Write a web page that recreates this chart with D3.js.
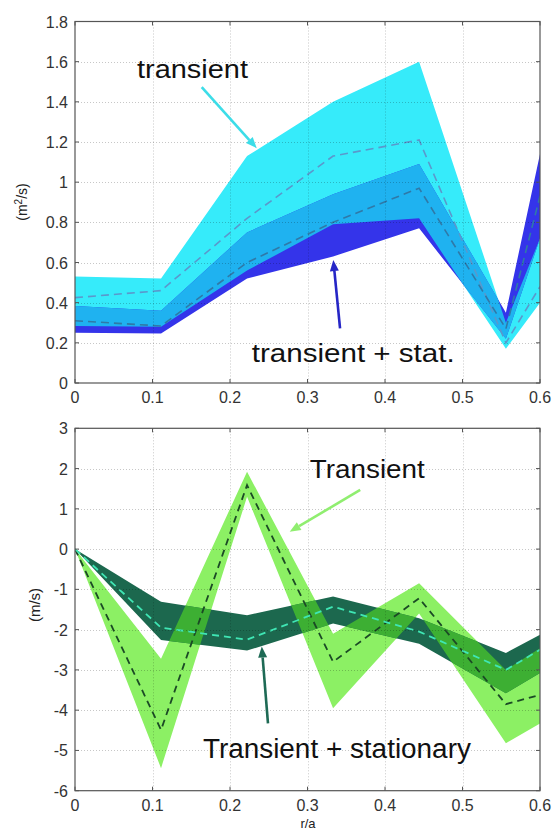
<!DOCTYPE html>
<html>
<head>
<meta charset="utf-8">
<script src="https://cdn.jsdelivr.net/npm/d3@7"></script>
<style>
  body { margin: 0; background: #fff; }
  svg { display: block; font-family: Arial, "Liberation Sans", sans-serif; }
</style>
</head>
<body>
<div id="chart"></div>
<script>
'use strict';

// radial positions (r/a) and x ticks, shared by both panels
const rOverA = [0, 0.111, 0.222, 0.333, 0.444, 0.556, 0.6];
const xTicks = [0, 0.1, 0.2, 0.3, 0.4, 0.5, 0.6];

// top panel: diffusion coefficient (m^2/s)
const diffTicks = [0, 0.2, 0.4, 0.6, 0.8, 1, 1.2, 1.4, 1.6, 1.8];
const diffTransLo   = [0.284, 0.28, 0.56, 0.79, 0.82, 0.17, 0.40];
const diffTransHi   = [0.53, 0.52, 1.13, 1.40, 1.60, 0.30, 0.72];
const diffTransMean = [0.425, 0.46, 0.82, 1.13, 1.21, 0.20, 0.48];
const diffStatLo    = [0.25, 0.247, 0.52, 0.63, 0.77, 0.22, 0.72];
const diffStatHi    = [0.383, 0.36, 0.75, 0.94, 1.09, 0.35, 1.14];
const diffStatMean  = [0.31, 0.284, 0.60, 0.80, 0.97, 0.27, 0.93];

// bottom panel: convection velocity (m/s)
const velTicks = [-6, -5, -4, -3, -2, -1, 0, 1, 2, 3];
const velTransLo   = [0, -5.44, 1.30, -3.95, -1.60, -4.82, -4.33];
const velTransHi   = [0, -2.72, 1.92, -2.10, -0.85, -3.00, -2.46];
const velTransMean = [0, -4.49, 1.59, -2.80, -1.22, -3.85, -3.62];
const velStatLo    = [0, -2.26, -2.52, -1.85, -2.35, -3.58, -3.08];
const velStatHi    = [0, -1.31, -1.64, -1.18, -1.72, -2.58, -2.13];
const velStatMean  = [0, -1.95, -2.25, -1.43, -2.05, -3.00, -2.50];

const width = 554, height = 832;

const svg = d3.select('#chart')
    .append('svg')
    .attr('width', width)
    .attr('height', height);

const x = d3.scaleLinear().domain([0, 0.6]).range([75, 540]);

const band = (lo, hi) => rOverA.map((r, i) => ({ r, lo: lo[i], hi: hi[i] }));
const series = vals => rOverA.map((r, i) => ({ r, v: vals[i] }));
const tickFmt = d => String(+d.toFixed(1)); // matlab style: 0, 0.2, 1, -3

function drawPanel(opt) {
    const y = opt.y;
    const [x0, x1] = x.range();
    const [yb, yt] = y.range();

    const area = d3.area().x(d => x(d.r)).y0(d => y(d.lo)).y1(d => y(d.hi));
    const line = d3.line().x(d => x(d.r)).y(d => y(d.v));

    // clip to the axes box
    svg.append('clipPath').attr('id', opt.id + '-box')
        .append('rect')
        .attr('x', x0).attr('y', yt)
        .attr('width', x1 - x0).attr('height', yb - yt);

    // clip to the first band, so the overlap can get its own colour
    svg.append('clipPath').attr('id', opt.id + '-band')
        .append('path')
        .attr('d', area(opt.bandA.data));

    const plot = svg.append('g').attr('clip-path', `url(#${opt.id}-box)`);

    plot.append('path').attr('d', area(opt.bandA.data)).attr('fill', opt.bandA.color);
    plot.append('path').attr('d', area(opt.bandB.data)).attr('fill', opt.bandB.color);
    plot.append('g').attr('clip-path', `url(#${opt.id}-band)`)
        .append('path').attr('d', area(opt.bandB.data)).attr('fill', opt.overlap);

    // grid, faint and dotted, over the patches
    const grid = svg.append('g')
        .attr('stroke', 'rgba(0,0,0,0.22)')
        .attr('stroke-width', 1)
        .attr('stroke-dasharray', '1,2');
    grid.selectAll('.gx').data(xTicks.slice(1, -1)).join('line')
        .attr('x1', d => Math.round(x(d)) + 0.5).attr('x2', d => Math.round(x(d)) + 0.5)
        .attr('y1', yt).attr('y2', yb);
    grid.selectAll('.gy').data(opt.ticks.slice(1, -1)).join('line')
        .attr('y1', d => Math.round(y(d)) + 0.5).attr('y2', d => Math.round(y(d)) + 0.5)
        .attr('x1', x0).attr('x2', x1);

    // dashed mean lines
    opt.lines.forEach(l => {
        plot.append('path')
            .attr('d', line(l.data))
            .attr('fill', 'none')
            .attr('stroke', l.color)
            .attr('stroke-width', l.width)
            .attr('stroke-dasharray', l.dash);
    });

    // axes frame
    svg.append('rect')
        .attr('x', x0).attr('y', yt)
        .attr('width', x1 - x0).attr('height', yb - yt)
        .attr('fill', 'none')
        .attr('stroke', '#555')
        .attr('stroke-width', 1.2);

    // inward ticks on all four sides
    const tk = svg.append('g').attr('stroke', '#555').attr('stroke-width', 1);
    xTicks.forEach(d => {
        tk.append('line').attr('x1', x(d)).attr('x2', x(d)).attr('y1', yb).attr('y2', yb - 4);
        tk.append('line').attr('x1', x(d)).attr('x2', x(d)).attr('y1', yt).attr('y2', yt + 4);
    });
    opt.ticks.forEach(d => {
        tk.append('line').attr('y1', y(d)).attr('y2', y(d)).attr('x1', x0).attr('x2', x0 + 4);
        tk.append('line').attr('y1', y(d)).attr('y2', y(d)).attr('x1', x1).attr('x2', x1 - 4);
    });

    // tick labels
    svg.append('g').selectAll('text').data(xTicks).join('text')
        .attr('x', d => x(d))
        .attr('y', yb + 20)
        .attr('text-anchor', 'middle')
        .attr('font-size', 16)
        .attr('fill', '#333')
        .text(tickFmt);
    svg.append('g').selectAll('text').data(opt.ticks).join('text')
        .attr('x', 68)
        .attr('y', d => y(d) + 6)
        .attr('text-anchor', 'end')
        .attr('font-size', 16)
        .attr('fill', '#333')
        .text(tickFmt);

    // annotations: text and arrows, placed in data units
    opt.notes.forEach(n => {
        svg.append('text')
            .attr('x', x(n.x)).attr('y', y(n.y))
            .attr('font-size', n.size)
            .attr('fill', '#111')
            .attr('textLength', n.len)
            .attr('lengthAdjust', 'spacingAndGlyphs')
            .text(n.text);
    });
    opt.arrows.forEach(a => drawArrow(x(a.x1), y(a.y1), x(a.x2), y(a.y2), a.color));

    return y;
}

function drawArrow(xa, ya, xb, yb, color) {
    const ang = Math.atan2(yb - ya, xb - xa);
    const hl = 11, hw = 4.5;
    const bx = xb - hl * Math.cos(ang), by = yb - hl * Math.sin(ang);
    svg.append('line')
        .attr('x1', xa).attr('y1', ya).attr('x2', bx).attr('y2', by)
        .attr('stroke', color).attr('stroke-width', 2.6);
    const px = -Math.sin(ang) * hw, py = Math.cos(ang) * hw;
    svg.append('path')
        .attr('d', `M${xb},${yb}L${bx + px},${by + py}L${bx - px},${by - py}Z`)
        .attr('fill', color);
}

// ---- top panel ----
drawPanel({
    id: 'diff',
    y: d3.scaleLinear().domain([0, 1.8]).range([383, 21.5]),
    ticks: diffTicks,
    bandA: { data: band(diffTransLo, diffTransHi), color: '#36ebfa' },
    bandB: { data: band(diffStatLo, diffStatHi), color: '#3434ea' },
    overlap: '#1fb2f0',
    lines: [
        { data: series(diffTransMean), color: '#5a98cc', width: 1.6, dash: '8,5' },
        { data: series(diffStatMean), color: '#2f79a8', width: 1.6, dash: '8,5' }
    ],
    notes: [
        { text: 'transient', x: 0.08, y: 1.52, size: 26, len: 111 },
        { text: 'transient + stat.', x: 0.228, y: 0.105, size: 26, len: 203 }
    ],
    arrows: [
        { x1: 0.1635, y1: 1.473, x2: 0.2345, y2: 1.169, color: '#3cdde8' },
        { x1: 0.342, y1: 0.272, x2: 0.3333, y2: 0.6125, color: '#2626c6' }
    ]
});

// ---- bottom panel ----
drawPanel({
    id: 'vel',
    y: d3.scaleLinear().domain([-6, 3]).range([790.7, 428.3]),
    ticks: velTicks,
    bandA: { data: band(velTransLo, velTransHi), color: '#8cf064' },
    bandB: { data: band(velStatLo, velStatHi), color: '#1c684e' },
    overlap: '#3daf33',
    lines: [
        { data: series(velTransMean), color: '#1b4a25', width: 1.8, dash: '7,5' },
        { data: series(velStatMean), color: '#3fe6b4', width: 1.8, dash: '7,5' }
    ],
    notes: [
        { text: 'Transient', x: 0.303, y: 1.76, size: 26, len: 115 },
        { text: 'Transient + stationary', x: 0.165, y: -5.19, size: 27, len: 268 }
    ],
    arrows: [
        { x1: 0.368, y1: 1.47, x2: 0.277, y2: 0.43, color: '#90ee70' },
        { x1: 0.249, y1: -4.33, x2: 0.241, y2: -2.42, color: '#1e6a55' }
    ]
});

// axis titles
svg.append('text')
    .attr('transform', 'translate(27,202) rotate(-90)')
    .attr('text-anchor', 'middle')
    .attr('font-size', 14)
    .attr('fill', '#222')
    .call(t => {
        t.append('tspan').text('(m');
        t.append('tspan').attr('baseline-shift', 'super').attr('font-size', 10).text('2');
        t.append('tspan').text('/s)');
    });

svg.append('text')
    .attr('transform', 'translate(40,605) rotate(-90)')
    .attr('text-anchor', 'middle')
    .attr('font-size', 15)
    .attr('fill', '#222')
    .text('(m/s)');

svg.append('text')
    .attr('x', 308)
    .attr('y', 828)
    .attr('text-anchor', 'middle')
    .attr('font-size', 13)
    .attr('fill', '#222')
    .text('r/a');
</script>
</body>
</html>
